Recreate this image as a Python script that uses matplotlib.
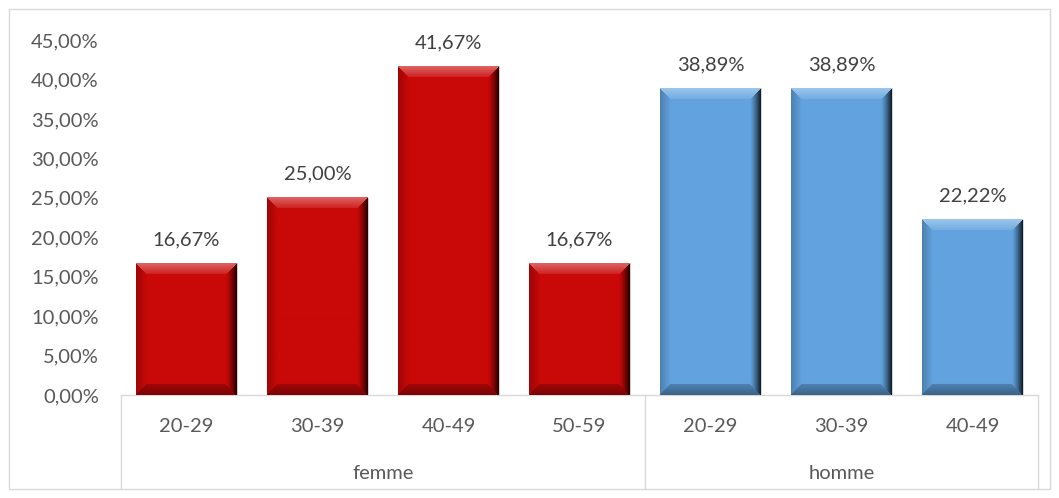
import numpy as np
import matplotlib
matplotlib.use('Agg')
import matplotlib.pyplot as plt
from matplotlib.patches import Rectangle

# data
groups = ['femme', 'homme']
ages_femme = ['20-29', '30-39', '40-49', '50-59']
ages_homme = ['20-29', '30-39', '40-49']
vals_femme = [16.67, 25.00, 41.67, 16.67]
vals_homme = [38.89, 38.89, 22.22]

red = '#C90808'
blue = '#62A3DF'
txt = '#595959'
fs = 14.5

plt.rcParams['font.family'] = ['Lato', 'DejaVu Sans']

fig = plt.figure(figsize=(10.59, 4.98), dpi=100)
ax = fig.add_axes([121/1059, 103/498, 917/1059, 355/498])

labels = ages_femme + ages_homme
values = vals_femme + vals_homme
colors = [red]*len(vals_femme) + [blue]*len(vals_homme)
x = np.arange(len(labels))

bars = ax.bar(x, values, width=0.77, color=colors, edgecolor='#d8d8d8', linewidth=0.6, zorder=2)
ax.set_xlim(-0.5, len(labels) - 0.5)
ax.set_ylim(0, 45)


def hex2rgb(h):
    return np.array(matplotlib.colors.to_rgb(h))


# bevel look, drawn on top of each bar
bev = 11
for b, c in zip(bars, colors):
    x0, w, h = b.get_x(), b.get_width(), b.get_height()
    p0 = ax.transData.transform((x0, 0))
    p1 = ax.transData.transform((x0 + w, h))
    Wp = int(round(p1[0] - p0[0]))
    Hp = int(round(p1[1] - p0[1]))
    base = hex2rgb(c)
    img = np.zeros((Hp, Wp, 3))
    for i in range(Hp):
        dt = i + 0.5
        db = Hp - i - 0.5
        for j in range(Wp):
            dl = j + 0.5
            dr = Wp - j - 0.5
            d = min(dt, db, dl, dr)
            col = base.copy()
            if d < bev:
                t = d / bev
                if d == dt:
                    k = 0.38 - 0.28 * t
                    col = col + (1 - col) * k
                elif d == dr:
                    k = 0.85 * (1 - t) ** 1.3
                    col = col * (1 - k)
                elif d == db:
                    k = 0.40 - 0.2 * t
                    col = col * (1 - k)
                else:
                    k = 0.22 * (1 - t)
                    col = col * (1 - k)
            img[i, j] = col
    ax.imshow(img, extent=(x0, x0 + w, 0, h), aspect='auto', interpolation='bilinear', zorder=3)
    ax.text(b.get_x() + w/2, h + 3.0, ('%.2f%%' % h).replace('.', ','), ha='center', va='center',
            fontsize=fs, color='#404040', zorder=4)

ax.set_aspect('auto')
ax.set_xlim(-0.5, len(labels) - 0.5)
ax.set_ylim(0, 45)

ax.set_yticks(np.arange(0, 46, 5))
ax.set_yticklabels([('%.2f%%' % v).replace('.', ',') for v in np.arange(0, 46, 5)])
ax.tick_params(axis='y', length=0, labelsize=fs, labelcolor=txt, pad=16)
ax.set_xticks([])
for s in ['top', 'right', 'left']:
    ax.spines[s].set_visible(False)
ax.spines['bottom'].set_color('#d9d9d9')
ax.spines['bottom'].set_linewidth(1)

# two level category axis
n = len(labels)
for i, lab in enumerate(labels):
    ax.text((i + 0.5) / n, -0.09, lab, transform=ax.transAxes, ha='center', va='center',
            fontsize=fs, color=txt)
ax.text(len(ages_femme) / 2 / n, -0.22, groups[0], transform=ax.transAxes, ha='center', va='center',
        fontsize=fs, color=txt)
ax.text((len(ages_femme) + len(ages_homme) / 2) / n, -0.22, groups[1], transform=ax.transAxes,
        ha='center', va='center', fontsize=fs, color=txt)
for xs in [0, len(ages_femme) / n, 1]:
    ax.plot([xs, xs], [0, -0.265], transform=ax.transAxes, color='#d9d9d9', lw=1, clip_on=False)

# chart frame
fig.patches.append(Rectangle((9/1059, 9/498), 1041/1059, 480/498, transform=fig.transFigure,
                             fill=False, edgecolor='#d9d9d9', lw=1))

fig.savefig('out.png', dpi=100)
